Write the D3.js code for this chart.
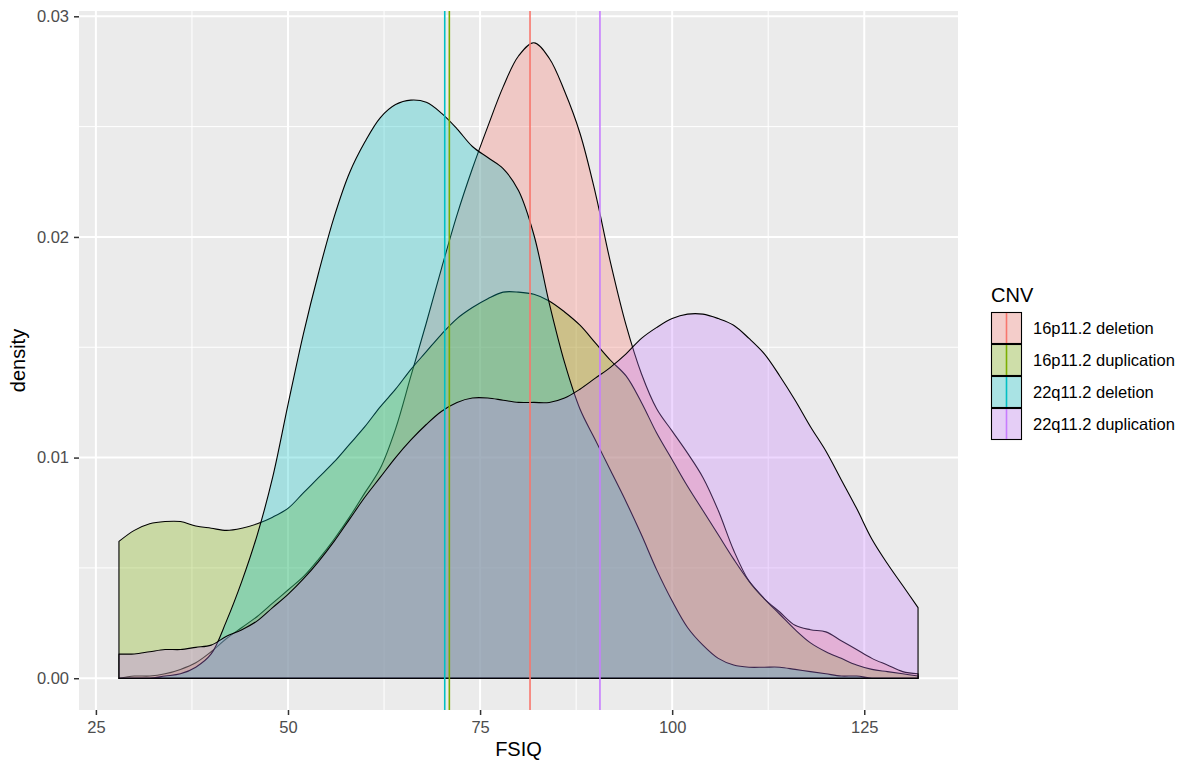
<!DOCTYPE html>
<html>
<head>
<meta charset="utf-8">
<script src="https://cdn.jsdelivr.net/npm/d3@7"></script>
<style>
  html, body { margin: 0; padding: 0; background: #ffffff; }
  svg { display: block; font-family: "Liberation Sans", Arial, sans-serif; }
</style>
</head>
<body>
<svg id="chart" width="1196" height="769"></svg>
<script>
// ---- data ----
const xGrid = [28,30,32,34,36,38,40,42,44,46,48,50,52,54,56,58,60,62,64,66,68,70,72,74,76,78,80,82,84,86,88,90,92,94,96,98,100,102,104,106,108,110,112,114,116,118,120,122,124,126,128,130,132];

const del16p = [0.0000,0.0001,0.0001,0.0002,0.0004,0.0007,0.0012,0.0018,0.0023,0.0028,0.0034,0.0040,0.0046,0.0054,0.0063,0.0073,0.0084,0.0095,0.0113,0.0137,0.0161,0.0186,0.0210,0.0231,0.0250,0.0268,0.0282,0.0288,0.0281,0.0266,0.0247,0.0220,0.0188,0.0160,0.0138,0.0122,0.0112,0.0102,0.0091,0.0076,0.0058,0.0044,0.0036,0.0030,0.0024,0.0022,0.0021,0.0017,0.0013,0.0009,0.0006,0.0003,0.0002];

const dup16p = [0.0062,0.0067,0.0070,0.0071,0.0071,0.0069,0.0068,0.0067,0.0068,0.0070,0.0073,0.0077,0.0084,0.0091,0.0098,0.0106,0.0114,0.0123,0.0131,0.0140,0.0148,0.0156,0.0163,0.0168,0.0172,0.0175,0.0175,0.0174,0.0171,0.0166,0.0160,0.0152,0.0144,0.0137,0.0125,0.0111,0.0099,0.0087,0.0076,0.0065,0.0054,0.0044,0.0036,0.0029,0.0022,0.0016,0.0012,0.0009,0.0006,0.0004,0.0003,0.0002,0.0001];

const del22q = [0.0000,0.0000,0.0000,0.0001,0.0002,0.0005,0.0011,0.0026,0.0044,0.0065,0.0091,0.0124,0.0156,0.0184,0.0209,0.0229,0.0243,0.0254,0.0260,0.0262,0.0261,0.0256,0.0249,0.0241,0.0236,0.0231,0.0221,0.0201,0.0170,0.0143,0.0122,0.0108,0.0094,0.0080,0.0065,0.0049,0.0035,0.0023,0.0015,0.0009,0.0006,0.0005,0.0005,0.0005,0.0004,0.0003,0.0002,0.0001,0.0001,0.0000,0.0000,0.0000,0.0000];

const dup22q = [0.0011,0.0011,0.0012,0.0013,0.0013,0.0014,0.0015,0.0019,0.0022,0.0026,0.0032,0.0038,0.0045,0.0053,0.0062,0.0072,0.0082,0.0091,0.0100,0.0108,0.0115,0.0121,0.0125,0.0127,0.0127,0.0126,0.0125,0.0125,0.0125,0.0127,0.0131,0.0136,0.0141,0.0147,0.0154,0.0159,0.0163,0.0165,0.0165,0.0163,0.0160,0.0154,0.0147,0.0137,0.0126,0.0114,0.0103,0.0090,0.0077,0.0063,0.0052,0.0042,0.0032];

const cnvNames = ["16p11.2 deletion", "16p11.2 duplication", "22q11.2 deletion", "22q11.2 duplication"];
const cnvColors = ["#F8766D", "#7CAE00", "#00BFC4", "#C77CFF"];
const cnvMeans = [81.5, 71.0, 70.4, 90.6];

const xTicks = [25, 50, 75, 100, 125];
const xMinor = [37.5, 62.5, 87.5, 112.5];
const yTicks = [0, 0.01, 0.02, 0.03];
const yTickLabels = ["0.00", "0.01", "0.02", "0.03"];
const yMinor = [0.005, 0.015, 0.025];

// ---- layout ----
const svg = d3.select("#chart");
const panel = { left: 79, right: 958, top: 11, bottom: 710 };

const x = d3.scaleLinear().domain([22.8, 137.2]).range([panel.left, panel.right]);
const y = d3.scaleLinear().domain([-0.00144, 0.03024]).range([panel.bottom, panel.top]);

// panel background
svg.append("rect")
  .attr("x", panel.left).attr("y", panel.top)
  .attr("width", panel.right - panel.left).attr("height", panel.bottom - panel.top)
  .attr("fill", "#EBEBEB");

const grid = svg.append("g");
grid.selectAll(".xminor").data(xMinor).enter().append("line")
  .attr("x1", d => x(d)).attr("x2", d => x(d))
  .attr("y1", panel.top).attr("y2", panel.bottom)
  .attr("stroke", "#ffffff").attr("stroke-width", 1);
grid.selectAll(".yminor").data(yMinor).enter().append("line")
  .attr("y1", d => y(d)).attr("y2", d => y(d))
  .attr("x1", panel.left).attr("x2", panel.right)
  .attr("stroke", "#ffffff").attr("stroke-width", 1);
grid.selectAll(".xmajor").data(xTicks).enter().append("line")
  .attr("x1", d => x(d)).attr("x2", d => x(d))
  .attr("y1", panel.top).attr("y2", panel.bottom)
  .attr("stroke", "#ffffff").attr("stroke-width", 2);
grid.selectAll(".ymajor").data(yTicks).enter().append("line")
  .attr("y1", d => y(d)).attr("y2", d => y(d))
  .attr("x1", panel.left).attr("x2", panel.right)
  .attr("stroke", "#ffffff").attr("stroke-width", 2);

// densities
const seriesValues = [del16p, dup16p, del22q, dup22q];
const area = d3.area()
  .x(d => x(d[0]))
  .y0(() => y(0))
  .y1(d => y(d[1]))
  .curve(d3.curveCatmullRom.alpha(0.5));

const dens = svg.append("g");
seriesValues.forEach((vals, i) => {
  const pts = xGrid.map((xv, j) => [xv, vals[j]]);
  dens.append("path")
    .attr("d", area(pts))
    .attr("fill", cnvColors[i])
    .attr("fill-opacity", 0.3)
    .attr("stroke", "#000000")
    .attr("stroke-width", 1.1)
    .attr("stroke-linejoin", "round");
});

// mean lines
svg.append("g").selectAll("line").data(cnvMeans).enter().append("line")
  .attr("x1", d => x(d)).attr("x2", d => x(d))
  .attr("y1", panel.top).attr("y2", panel.bottom)
  .attr("stroke", (d, i) => cnvColors[i])
  .attr("stroke-width", 1.6);

// axes
const xAxis = d3.axisBottom(x).tickValues(xTicks).tickSize(5).tickPadding(6).tickFormat(d3.format("d"));
const gx = svg.append("g").attr("transform", `translate(0,${panel.bottom})`).call(xAxis);
gx.select(".domain").remove();
gx.selectAll(".tick line").attr("stroke", "#333333").attr("stroke-width", 1.5);
gx.selectAll(".tick text").attr("fill", "#4D4D4D").attr("font-size", 16.5)
  .attr("font-family", "Liberation Sans, Arial, sans-serif");

const yAxis = d3.axisLeft(y).tickValues(yTicks).tickSize(5).tickPadding(5)
  .tickFormat((d, i) => yTickLabels[i]);
const gy = svg.append("g").attr("transform", `translate(${panel.left},0)`).call(yAxis);
gy.select(".domain").remove();
gy.selectAll(".tick line").attr("stroke", "#333333").attr("stroke-width", 1.5);
gy.selectAll(".tick text").attr("fill", "#4D4D4D").attr("font-size", 16.5)
  .attr("font-family", "Liberation Sans, Arial, sans-serif");

// axis titles
svg.append("text")
  .attr("x", (panel.left + panel.right) / 2).attr("y", 756)
  .attr("text-anchor", "middle").attr("font-size", 20).attr("fill", "#000")
  .text("FSIQ");
svg.append("text")
  .attr("transform", `translate(25,${(panel.top + panel.bottom) / 2}) rotate(-90)`)
  .attr("text-anchor", "middle").attr("font-size", 20).attr("fill", "#000")
  .text("density");

// legend
const lg = svg.append("g").attr("transform", "translate(991,0)");
lg.append("text").attr("x", 0).attr("y", 302).attr("font-size", 20).attr("fill", "#000").text("CNV");
const keyW = 31, keyH = 32, key0 = 312;
cnvNames.forEach((name, i) => {
  const ky = key0 + i * keyH;
  lg.append("rect").attr("x", 0).attr("y", ky).attr("width", keyW).attr("height", keyH).attr("fill", "#F2F2F2");
  lg.append("rect").attr("x", 0.5).attr("y", ky + 0.5).attr("width", keyW - 1).attr("height", keyH - 1)
    .attr("fill", cnvColors[i]).attr("fill-opacity", 0.3)
    .attr("stroke", "#000").attr("stroke-width", 1.1);
  lg.append("line").attr("x1", keyW / 2).attr("x2", keyW / 2).attr("y1", ky + 1).attr("y2", ky + keyH - 1)
    .attr("stroke", cnvColors[i]).attr("stroke-width", 1.6);
  lg.append("text").attr("x", 42).attr("y", ky + keyH / 2).attr("dy", "0.35em")
    .attr("font-size", 16.5).attr("fill", "#000").text(name);
});
</script>
</body>
</html>
